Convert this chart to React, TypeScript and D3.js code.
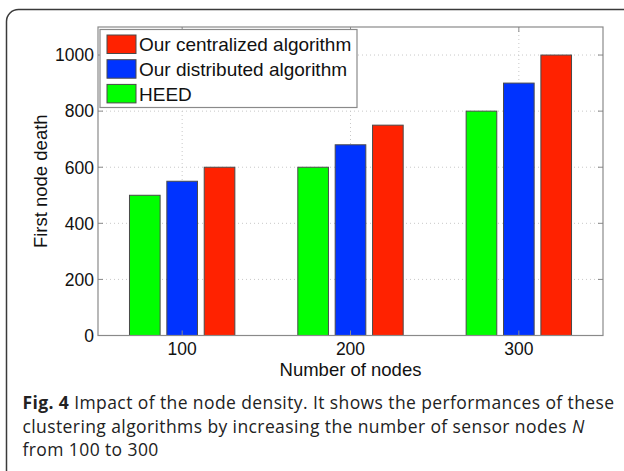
import React from 'react';
import * as d3 from 'd3';

const categories = ['100', '200', '300'];
const heed = [500, 600, 800];
const distributed = [550, 680, 900];
const centralized = [600, 750, 1000];
const yTicks = [0, 200, 400, 600, 800, 1000];

const seriesNames = ['Our centralized algorithm', 'Our distributed algorithm', 'HEED'];
const captionLines = [
  'Impact of the node density. It shows the performances of these',
  'clustering algorithms by increasing the number of sensor nodes ',
  'from 100 to 300',
];

const W = 624;
const H = 471;
const L = 98, R = 603, T = 27, B = 335.5;

export default function App() {
  const x = d3.scaleLinear().domain([0.5, 3.5]).range([L, R]);
  const y = d3.scaleLinear().domain([0, 1100]).range([B, T]);
  const series = [
    { values: heed, color: '#00ff00', off: -0.222 },
    { values: distributed, color: '#0033ff', off: 0 },
    { values: centralized, color: '#ff2200', off: 0.222 },
  ];
  const bw = 0.182;
  const legendColors = ['#ff2200', '#0033ff', '#00ff00'];
  const font = '"Liberation Sans", Arial, Helvetica, sans-serif';
  const capFont = '"Open Sans", sans-serif';
  const axisColor = '#8a8a8a';
  const gridColor = '#c8c8c8';
  const tick = 5;

  return (
    <svg width={W} height={H} style={{ position: 'absolute', left: 0, top: 0, background: '#fff' }}>
      <rect x={0} y={0} width={W} height={H} fill="#fff" />
      <rect x={6.5} y={9.5} width={800} height={700} rx={12} ry={12} fill="none" stroke="#3a3a3a" strokeWidth={1.5} />
      {/* grid */}
      {yTicks.filter(t => t > 0).map(t => (
        <line key={'gy' + t} x1={L} x2={R} y1={y(t)} y2={y(t)} stroke={gridColor} strokeWidth={1} strokeDasharray="1,3" />
      ))}
      {categories.map((c, i) => (
        <line key={'gx' + c} x1={x(i + 1)} x2={x(i + 1)} y1={T} y2={B} stroke={gridColor} strokeWidth={1} strokeDasharray="1,3" />
      ))}
      {/* bars */}
      {series.map((s, si) =>
        s.values.map((v, i) => (
          <rect key={si + '-' + i}
            x={x(i + 1 + s.off - bw / 2)}
            y={y(v)}
            width={x(i + 1 + s.off + bw / 2) - x(i + 1 + s.off - bw / 2)}
            height={y(0) - y(v)}
            fill={s.color} stroke="#4a4a4a" strokeWidth={1} />
        ))
      )}
      {/* axes box */}
      <rect x={L} y={T} width={R - L} height={B - T} fill="none" stroke={axisColor} strokeWidth={1.2} />
      {yTicks.map(t => (
        <g key={'yt' + t}>
          <line x1={L} x2={L + tick} y1={y(t)} y2={y(t)} stroke={axisColor} />
          <line x1={R} x2={R - tick} y1={y(t)} y2={y(t)} stroke={axisColor} />
          <text x={L - 4} y={y(t)} dy="0.36em" textAnchor="end" fontFamily={font} fontSize={17.5} fill="#111">{t}</text>
        </g>
      ))}
      {categories.map((c, i) => (
        <g key={'xt' + c}>
          <line x1={x(i + 1)} x2={x(i + 1)} y1={B} y2={B - tick} stroke={axisColor} />
          <line x1={x(i + 1)} x2={x(i + 1)} y1={T} y2={T + tick} stroke={axisColor} />
          <text x={x(i + 1)} y={355} textAnchor="middle" fontFamily={font} fontSize={17.5} fill="#111">{c}</text>
        </g>
      ))}
      <text x={(L + R) / 2} y={375.5} textAnchor="middle" fontFamily={font} fontSize={18.5} fill="#111">Number of nodes</text>
      <text transform={`translate(47,${(T + B) / 2}) rotate(-90)`} textAnchor="middle" fontFamily={font} fontSize={18.5} fill="#111">First node death</text>
      {/* legend */}
      <rect x={100} y={29.5} width={257} height={78} fill="#fff" stroke={axisColor} strokeWidth={1.2} />
      {seriesNames.map((n, i) => (
        <g key={'lg' + i}>
          <rect x={107} y={35 + i * 24.7} width={29} height={18.5} fill={legendColors[i]} stroke="#4a4a4a" strokeWidth={1} />
          <text x={139} y={44.3 + i * 24.7} dy="0.36em" fontFamily={font} fontSize={19} fill="#111">{n}</text>
        </g>
      ))}
      {/* caption */}
      <text x={22.5} y={409} fontFamily={capFont} fontSize={17.5} letterSpacing={0.4} fill="#222">
        <tspan fontWeight="bold">Fig. 4</tspan> {captionLines[0]}
      </text>
      <text x={22.5} y={432.5} fontFamily={capFont} fontSize={17.5} letterSpacing={0.4} fill="#222">
        {captionLines[1]}<tspan fontStyle="italic">N</tspan>
      </text>
      <text x={22.5} y={456} fontFamily={capFont} fontSize={17.5} letterSpacing={0.4} fill="#222">{captionLines[2]}</text>
    </svg>
  );
}
